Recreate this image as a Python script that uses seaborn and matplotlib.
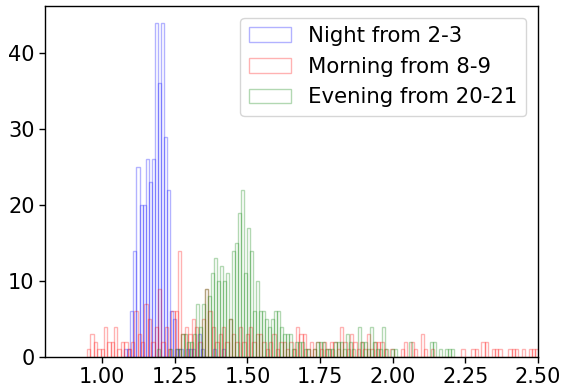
import numpy as np
import pandas as pd
import matplotlib
matplotlib.use("Agg")
import matplotlib.pyplot as plt
import seaborn as sns

# Histogram counts per bin for each time window (bin start, bin width, counts)
night_label = "Night from 2-3"
night_start = 1.0757
night_width = 0.01056
night_counts = [1, 1, 6, 14, 25, 20, 20, 26, 23, 26, 44, 36, 44, 29, 22, 6, 5,
                1, 1, 0, 1, 1, 1, 0, 3, 1, 0, 0, 0, 1, 0, 0, 1]

morning_label = "Morning from 8-9"
morning_start = 0.948
morning_width = 0.0116
morning_counts = [1, 3, 2, 1, 1, 4, 2, 2, 4, 1, 2, 2, 1, 2, 6, 3, 2, 7, 5, 2,
                  4, 9, 2, 4, 1, 6, 6, 14, 3, 4, 3, 5, 4, 2, 5, 9, 6, 4, 2, 3,
                  4, 2, 5, 3, 2, 4, 2, 3, 4, 2, 3, 3, 2, 1, 2, 3, 1, 2, 2, 1,
                  2, 1, 4, 3, 3, 1, 2, 1, 2, 1, 2, 1, 2, 2, 1, 4, 2, 1, 3, 2,
                  1, 2, 1, 3, 1, 2, 2, 2, 1, 0, 1, 0, 0, 1, 2, 0, 2, 1, 0, 3,
                  1, 0, 1, 0, 0, 0, 0, 0, 0, 0, 0, 1, 0, 0, 1, 1, 0, 2, 2, 0,
                  1, 1, 1, 0, 0, 1, 1, 1, 0, 1, 0, 1, 1, 1]

evening_label = "Evening from 20-21"
evening_start = 1.1885
evening_width = 0.01032
evening_counts = [1, 0, 0, 0, 1, 0, 1, 1, 3, 3, 2, 2, 3, 7, 4, 7, 9, 8, 11, 13,
                  10, 12, 10, 11, 5, 14, 15, 19, 22, 11, 17, 14, 6, 10, 6, 6, 5, 4, 5, 6,
                  6, 4, 3, 3, 3, 1, 2, 2, 2, 1, 1, 0, 1, 2, 2, 2, 1, 1, 1, 2,
                  2, 2, 1, 3, 2, 1, 0, 4, 2, 2, 1, 4, 2, 1, 1, 4, 1, 0, 1, 1,
                  0, 0, 0, 0, 2, 0, 0, 0, 0, 0, 0, 2, 2, 0, 1, 0, 1, 1, 1]

series = [
    (night_label, night_start, night_width, night_counts, "blue"),
    (morning_label, morning_start, morning_width, morning_counts, "red"),
    (evening_label, evening_start, evening_width, evening_counts, "green"),
]

sns.set_style("white")
plt.rcParams["font.family"] = ["DejaVu Sans"]
plt.rcParams["text.color"] = "black"
plt.rcParams["xtick.color"] = "black"
plt.rcParams["ytick.color"] = "black"
plt.rcParams["axes.labelcolor"] = "black"

fig = plt.figure(figsize=(5.61, 3.87), dpi=100)
ax = fig.add_axes([45 / 561, 30 / 387, 493 / 561, 351 / 387])

for label, start, width, counts, color in series:
    counts = np.asarray(counts)
    edges = start + width * np.arange(len(counts) + 1)
    centers = (edges[:-1] + edges[1:]) / 2
    df = pd.DataFrame({"value": centers, "n": counts})
    sns.histplot(data=df, x="value", weights="n", bins=[float(e) for e in edges],
                 fill=False, element="bars", color=color, alpha=0.3,
                 linewidth=1.0, label=label, ax=ax)

ax.set_xlim(0.803, 2.5)
ax.set_ylim(0, 46.2)
ax.set_xticks([1.0, 1.25, 1.5, 1.75, 2.0, 2.25, 2.5])
ax.set_yticks([0, 10, 20, 30, 40])
ax.set_xlabel("")
ax.set_ylabel("")
ax.tick_params(axis="both", labelsize=15, length=4, width=1, bottom=True,
               left=True, colors="black")
for sp in ax.spines.values():
    sp.set_color("black")
    sp.set_linewidth(1.0)

leg = ax.legend(loc="upper right", fontsize=15.3, frameon=True,
                borderaxespad=0.55)
for txt in leg.get_texts():
    txt.set_color("black")

fig.savefig("out.png", dpi=100)
